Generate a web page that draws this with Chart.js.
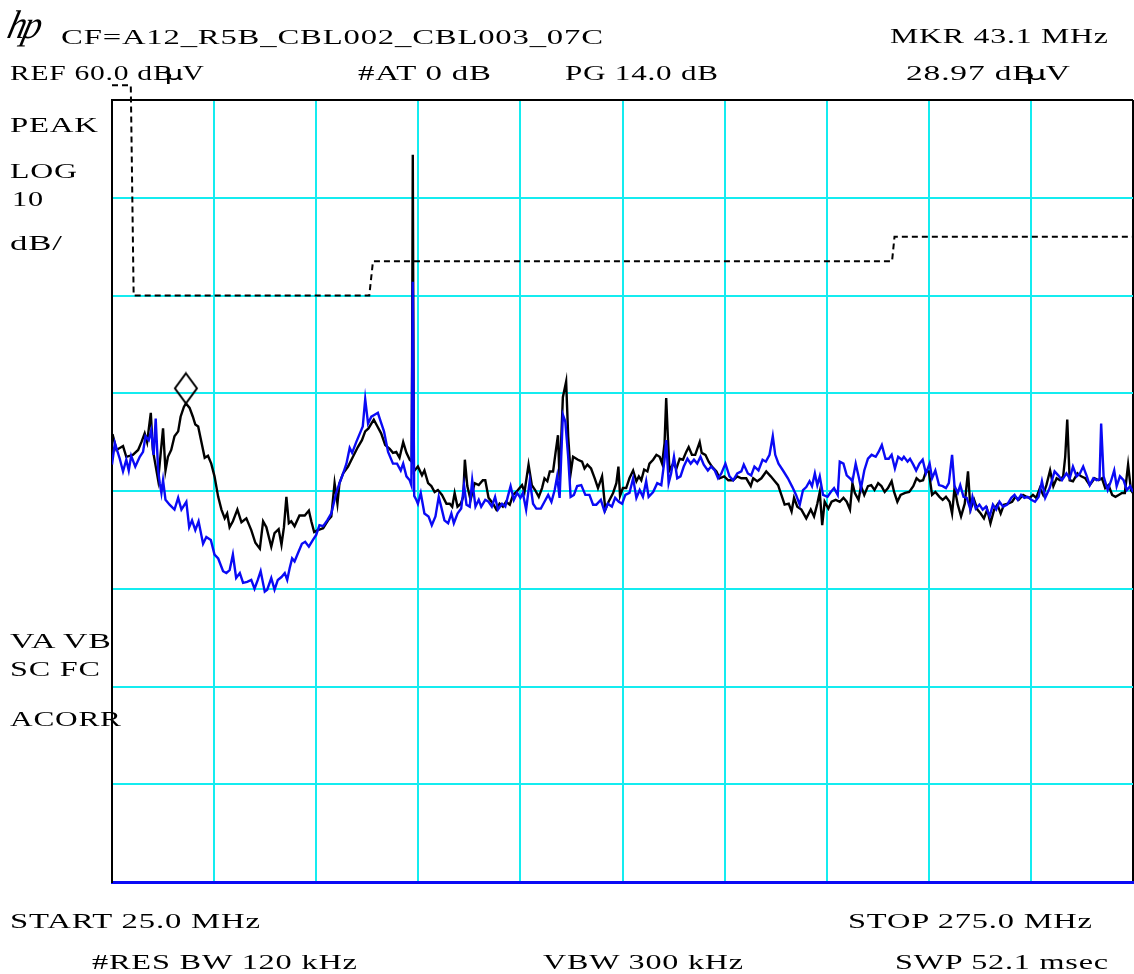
<!DOCTYPE html>
<html>
<head>
<meta charset="utf-8">
<title>Spectrum 25 - 275 MHz</title>
<script src="https://cdn.jsdelivr.net/npm/chart.js@4.4.1/dist/chart.umd.min.js"></script>
<style>
  html, body { margin: 0; padding: 0; background: #fff; }
  #wrap { position: relative; width: 1134px; height: 974px; overflow: hidden; }
  #plot { position: absolute; left: 0; top: 0; }
  .lbl {
    position: absolute;
    font-family: "Liberation Serif", "Times New Roman", serif;
    font-size: 20px;
    line-height: 20px;
    color: #000;
    white-space: pre;
    letter-spacing: 0.5px;
    transform-origin: 0 0;
  }
  .lbl .mu { font-family: "DejaVu Sans", sans-serif; margin-left: -6px; margin-right: -1px; }
  .logo {
    position: absolute; left: 14px; top: 5px;
    font-family: "Liberation Serif", serif; font-style: italic;
    font-size: 40px; line-height: 40px; letter-spacing: -3px;
    transform: skewX(-14deg) scaleX(0.9);
    transform-origin: 0 0;
  }
</style>
</head>
<body>
<div id="wrap">
  <canvas id="plot" width="1134" height="974"></canvas>
  <div class="logo">hp</div>
</div>
<script>
// sweep / display settings
const startMHz = 25.0;
const stopMHz = 275.0;
const freqPerDiv = 25;
const refLevel = 60.0;      // dBuV at top graticule
const dbPerDiv = 10;
const divisions = 8;

// marker readout
const markerFreqMHz = 43.1;
const markerLevel = 28.97;

// limit line (dBuV), stepped
const limitFreqMHz = [25.0, 29.6, 30.3, 88.0, 88.9, 216.0, 216.6, 275.0];
const limitLevel   = [61.5, 61.5, 40.0, 40.0, 43.5, 43.5, 46.0, 46.0];

// trace A (black): [MHz, dBuV]
const traceA = [
  [25.0,25.8],[25.2,25.7],[26.1,24.2],[27.7,24.6],[28.5,23.5],[30.1,23.7],[31.4,24.2],[32.2,25.0],
  [33.0,25.9],[33.6,25.0],[34.5,28.0],[35.0,24.2],[36.3,21.1],[37.5,26.4],[38.1,22.1],[38.7,23.5],
  [39.5,24.2],[40.3,25.6],[41.2,26.1],[41.8,27.6],[42.6,28.6],[43.1,28.97],[44.0,28.5],[44.8,27.6],
  [45.4,26.8],[46.1,26.6],[46.7,25.4],[47.7,23.4],[48.5,23.6],[49.3,22.8],[50.1,21.5],[51.0,19.4],
  [51.8,18.1],[52.6,17.2],[53.2,17.7],[53.8,16.3],[54.6,16.9],[55.7,18.1],[56.7,16.8],[57.9,17.2],
  [59.1,16.0],[60.1,14.7],[61.2,14.1],[62.0,16.9],[62.8,16.3],[64.0,14.3],[64.8,15.7],[65.8,16.1],
  [66.5,14.5],[67.1,16.3],[67.7,19.4],[68.3,16.7],[68.9,16.9],[69.7,16.4],[70.9,17.5],[72.2,17.5],
  [73.2,18.0],[73.8,16.9],[74.5,15.8],[75.4,16.0],[76.7,16.2],[77.9,17.0],[78.7,17.4],[79.5,20.8],
  [80.2,18.7],[80.7,20.8],[81.6,21.8],[82.8,22.5],[84.0,23.5],[85.2,24.5],[86.2,25.2],[87.0,26.1],
  [87.8,26.4],[88.5,26.9],[89.1,27.3],[90.0,26.6],[90.9,25.9],[91.9,24.7],[93.0,24.3],[93.8,23.9],
  [94.6,24.0],[95.4,23.4],[96.3,25.0],[97.1,23.9],[97.9,23.2],[98.4,23.0],[98.65,54.4],[98.9,22.0],
  [99.9,22.5],[100.9,21.6],[101.5,22.1],[102.4,20.8],[103.2,20.5],[104.0,19.9],[104.8,20.1],[105.8,19.6],
  [106.9,18.7],[107.7,18.7],[108.3,18.4],[108.9,19.8],[109.6,18.4],[110.4,18.7],[111.0,19.4],[111.4,23.2],
  [112.0,20.5],[112.8,19.1],[113.8,20.8],[114.8,20.6],[115.8,21.1],[116.4,21.1],[117.2,19.3],[118.3,18.7],
  [119.1,18.1],[119.9,18.7],[120.7,18.4],[121.5,18.9],[122.4,18.6],[123.2,19.6],[124.0,19.9],[124.8,20.3],
  [125.4,20.6],[126.0,19.9],[127.0,22.7],[127.8,20.6],[128.6,20.1],[129.5,19.4],[130.3,20.3],[130.9,21.3],
  [131.6,21.0],[132.2,22.0],[133.0,22.0],[133.6,23.9],[134.2,25.7],[134.6,21.1],[135.4,29.6],[136.2,31.2],
  [136.7,25.6],[137.3,21.8],[137.9,23.5],[139.1,23.2],[140.1,23.0],[140.7,22.3],[141.4,22.7],[142.3,22.3],
  [143.2,21.3],[144.0,20.3],[145.0,21.5],[145.8,18.1],[146.6,18.9],[147.7,19.8],[148.5,20.8],[149.0,22.5],
  [149.4,19.5],[150.1,20.3],[150.9,20.3],[151.7,21.3],[152.6,22.1],[153.4,21.0],[154.0,21.5],[154.6,21.1],
  [155.3,22.2],[156.1,22.0],[156.6,22.8],[157.5,23.2],[158.3,23.7],[159.1,23.5],[159.7,22.8],[160.3,24.9],
  [160.7,29.5],[161.1,25.6],[161.5,22.1],[162.4,22.8],[163.2,22.3],[164.0,23.3],[164.8,23.2],[165.6,24.0],
  [166.2,24.5],[167.0,23.7],[167.8,23.7],[168.9,25.0],[169.4,23.9],[170.3,23.7],[171.1,23.0],[171.9,22.5],
  [173.0,22.0],[173.8,21.3],[174.9,21.5],[175.9,21.1],[177.1,21.1],[178.1,21.5],[179.1,21.3],[180.3,21.3],
  [181.4,20.5],[182.0,21.3],[183.0,21.0],[184.0,21.3],[185.2,22.0],[186.3,21.5],[187.3,21.0],[188.1,20.6],
  [188.9,19.6],[189.7,18.6],[190.7,18.7],[191.4,17.9],[192.0,19.3],[192.8,18.4],[193.8,18.1],[195.0,17.2],
  [196.1,18.1],[196.9,17.4],[197.7,18.7],[198.3,19.9],[198.9,16.5],[199.5,18.9],[200.4,18.2],[201.2,18.9],
  [202.2,19.1],[203.2,18.9],[204.1,19.3],[204.9,18.9],[205.7,18.1],[206.3,20.8],[206.9,19.8],[207.8,19.1],
  [208.4,20.5],[209.2,19.6],[210.1,20.5],[210.9,20.6],[211.7,20.1],[212.6,20.8],[213.4,20.5],[214.2,19.9],
  [215.0,20.3],[215.9,21.0],[216.5,19.9],[217.3,18.9],[218.1,19.6],[219.2,19.8],[220.2,19.9],[221.2,20.5],
  [222.0,21.3],[222.8,21.0],[223.6,21.1],[224.3,22.0],[225.0,22.0],[225.8,19.6],[226.6,19.9],[227.6,19.4],
  [228.4,19.1],[229.2,19.4],[230.1,18.9],[230.7,17.7],[231.3,20.3],[232.1,18.6],[232.9,17.4],[233.8,18.7],
  [234.6,22.0],[235.2,18.1],[236.1,19.1],[236.9,18.1],[237.7,17.7],[238.5,17.2],[239.3,18.1],[240.1,16.7],
  [241.0,18.1],[241.8,18.6],[242.6,17.7],[243.4,18.6],[244.4,18.7],[245.4,18.9],[246.2,19.4],[247.0,19.1],
  [248.1,19.6],[248.9,19.4],[249.7,19.3],[250.5,19.6],[251.3,19.3],[252.2,20.3],[253.0,19.6],[253.8,20.6],
  [254.7,22.1],[255.5,20.5],[256.3,21.3],[257.1,21.1],[257.9,21.5],[258.4,23.5],[258.9,27.3],[259.5,21.1],
  [260.3,21.0],[261.4,21.8],[262.3,21.5],[263.3,21.3],[264.4,20.6],[265.6,21.3],[266.6,21.1],[267.4,21.3],
  [268.2,20.3],[269.0,20.6],[269.9,19.6],[270.7,19.4],[271.5,19.6],[272.3,19.8],[273.0,19.8],[273.8,22.7],
  [274.5,20.1],[275.0,19.8]
];

// trace B (blue): [MHz, dBuV]
const traceB = [
  [25.0,22.7],[25.7,24.9],[26.9,23.3],[27.7,22.0],[28.5,23.2],[29.1,22.1],[29.7,23.6],[30.7,22.5],
  [31.8,23.5],[32.6,24.0],[33.2,25.6],[34.0,25.2],[34.6,26.2],[35.2,23.7],[35.7,27.4],[36.3,22.1],
  [36.7,20.8],[37.1,19.8],[37.5,21.1],[38.1,19.1],[39.1,18.6],[40.3,18.1],[41.2,19.3],[42.0,18.1],
  [43.2,18.9],[43.9,16.3],[44.6,17.0],[45.4,16.0],[46.2,16.9],[47.3,14.6],[48.1,15.3],[49.2,15.0],
  [50.1,13.5],[51.0,13.1],[52.2,11.8],[53.0,11.6],[53.8,11.9],[54.6,13.5],[55.4,11.1],[56.3,11.6],
  [57.1,10.6],[58.1,10.7],[59.1,10.9],[59.9,10.0],[60.7,10.9],[61.4,11.8],[62.4,9.7],[63.0,9.9],
  [64.0,11.1],[64.8,9.9],[65.6,10.9],[66.5,11.2],[67.3,11.6],[67.9,10.9],[68.5,12.1],[69.1,13.1],
  [69.7,12.8],[70.5,13.6],[71.5,14.6],[72.3,14.8],[73.2,14.3],[74.2,15.0],[75.0,15.5],[75.8,16.5],
  [76.7,16.4],[77.7,17.0],[78.7,17.7],[79.9,19.8],[80.7,20.8],[81.6,21.8],[82.4,22.8],[83.2,24.4],
  [83.8,23.9],[84.8,25.0],[85.9,26.1],[86.4,26.6],[87.0,29.4],[87.7,26.9],[88.5,27.6],[89.3,27.8],
  [90.1,28.0],[90.8,27.1],[91.6,26.1],[92.6,24.0],[93.8,22.8],[94.8,22.8],[95.7,22.1],[96.3,22.8],
  [97.1,21.5],[97.9,21.1],[98.3,20.6],[98.65,41.4],[99.0,19.5],[99.5,19.1],[99.9,18.7],[100.6,19.8],
  [101.5,17.7],[102.5,17.4],[103.3,16.5],[104.2,17.4],[105.0,19.4],[105.6,18.4],[106.4,17.0],[107.3,16.7],
  [108.1,17.7],[108.7,16.7],[109.6,17.7],[110.5,18.2],[111.2,20.6],[111.8,18.6],[112.6,18.4],[113.2,21.1],
  [114.0,18.4],[114.8,19.1],[115.4,18.4],[116.4,19.1],[117.2,18.9],[118.0,18.4],[118.8,19.4],[119.5,18.1],
  [120.5,18.7],[121.3,18.4],[121.9,19.4],[122.6,20.5],[123.4,19.1],[124.2,19.8],[125.0,19.3],[125.6,19.8],
  [126.4,18.1],[127.3,21.1],[128.1,18.7],[128.9,18.2],[130.0,18.2],[130.9,18.9],[131.8,19.6],[132.6,18.9],
  [133.4,20.1],[134.0,21.5],[134.6,19.3],[135.4,27.8],[136.0,27.1],[136.7,23.5],[137.3,19.4],[138.1,19.6],
  [138.9,20.5],[139.9,20.6],[140.9,19.6],[141.9,19.6],[142.8,18.6],[143.6,18.6],[144.7,19.1],[145.6,17.9],
  [146.4,18.7],[147.4,18.4],[148.2,19.3],[149.1,18.9],[149.9,18.7],[150.7,19.6],[151.7,19.8],[152.6,21.3],
  [153.4,19.3],[154.2,20.1],[155.0,19.4],[155.8,21.0],[156.4,19.4],[157.5,19.9],[158.5,20.8],[159.5,20.6],
  [160.3,23.2],[160.7,25.2],[161.3,20.8],[161.9,21.8],[162.6,23.5],[163.4,21.3],[164.2,21.5],[165.0,22.5],
  [165.9,23.3],[166.7,22.8],[167.5,23.2],[168.3,22.8],[169.1,23.5],[169.9,22.7],[170.9,22.1],[171.7,22.5],
  [172.6,22.1],[173.4,21.3],[174.2,21.8],[175.2,22.8],[176.2,21.5],[177.1,21.1],[178.1,21.8],[179.1,22.0],
  [179.7,22.7],[180.7,21.8],[181.5,21.6],[182.3,22.5],[183.3,22.1],[184.3,23.2],[185.1,23.0],[186.0,23.7],
  [186.8,25.6],[187.4,23.7],[188.2,22.8],[189.3,22.1],[190.5,21.3],[191.6,20.4],[192.5,19.6],[193.4,18.6],
  [194.2,20.1],[195.0,20.4],[195.8,21.0],[196.4,20.5],[197.1,21.8],[197.7,20.6],[198.3,21.5],[199.1,19.6],
  [200.2,19.4],[201.0,19.9],[201.8,20.3],[202.7,19.6],[203.2,23.0],[204.1,22.8],[204.9,21.6],[205.7,21.3],
  [206.3,21.0],[207.1,22.8],[207.8,21.5],[208.4,20.3],[209.2,22.1],[210.1,23.3],[211.0,23.7],[212.0,23.5],
  [212.7,24.0],[213.5,24.7],[214.4,23.3],[215.2,23.3],[215.9,23.7],[216.7,22.3],[217.5,23.5],[218.4,23.2],
  [218.9,23.5],[219.8,23.0],[220.4,23.3],[221.2,22.7],[221.9,22.1],[222.7,22.8],[223.5,23.2],[224.3,21.8],
  [225.2,22.8],[225.8,21.3],[226.6,22.1],[227.5,20.6],[228.4,20.5],[229.2,20.3],[229.9,20.8],[230.7,23.7],
  [231.3,20.5],[232.1,19.8],[232.7,20.6],[233.5,19.4],[234.3,19.3],[235.2,18.1],[235.7,19.4],[236.5,18.2],
  [237.4,18.6],[238.2,18.1],[239.0,18.4],[239.9,17.4],[240.7,18.6],[241.5,18.1],[242.3,18.9],[243.2,18.4],
  [244.2,18.6],[245.2,19.3],[246.0,19.6],[246.8,19.1],[247.6,19.6],[248.4,19.3],[249.2,19.4],[250.1,19.1],
  [251.0,18.9],[251.9,19.4],[252.7,21.0],[253.5,19.3],[254.6,20.3],[255.8,22.0],[256.7,21.6],[257.6,21.1],
  [258.7,21.8],[259.5,21.3],[260.3,22.5],[261.2,21.5],[262.0,21.8],[262.8,22.5],[263.7,21.5],[264.4,20.6],
  [265.3,21.3],[266.1,21.1],[266.8,21.2],[267.2,26.9],[267.8,21.5],[268.8,20.1],[269.6,21.0],[270.4,22.1],
  [271.0,20.5],[271.8,21.5],[272.7,21.1],[273.5,20.1],[274.3,20.5],[275.0,19.9]
];

// annotation text: [html, left x, baseline y, drawn width]
const labelLayout = [
  ['CF=A12_R5B_CBL002_CBL003_07C', 61, 44, 542],
  ['MKR ' + markerFreqMHz.toFixed(1) + ' MHz', 890, 43, 218],
  ['REF ' + refLevel.toFixed(1) + ' dB<span class="mu">µ</span>V', 10, 80, 194],
  ['#AT 0 dB', 358, 80, 133],
  ['PG 14.0 dB', 565, 80, 153],
  [markerLevel.toFixed(2) + ' dB<span class="mu">µ</span>V', 906, 80, 164],
  ['PEAK', 10, 132, 88],
  ['LOG', 10, 178, 67],
  [String(dbPerDiv), 12, 206, 31],
  ['dB/', 10, 250, 52],
  ['VA VB', 10, 648, 101],
  ['SC FC', 10, 676, 90],
  ['ACORR', 10, 726, 111],
  ['START ' + startMHz.toFixed(1) + ' MHz', 10, 928, 250],
  ['STOP ' + stopMHz.toFixed(1) + ' MHz', 848, 928, 244],
  ['#RES BW 120 kHz', 92, 969, 265],
  ['VBW 300 kHz', 543, 969, 200],
  ['SWP 52.1 msec', 895, 969, 213]
];

const GRID = '#14ecf0';
const TRACE_BLUE = '#0a0af5';

function toPoints(pairs) {
  return pairs.map(p => ({ x: p[0], y: p[1] }));
}

// diamond marker, bottom tip sits on the data point
function diamondMarker() {
  const c = document.createElement('canvas');
  c.width = 26;
  c.height = 64;
  const g = c.getContext('2d');
  g.strokeStyle = '#000';
  g.lineWidth = 2;
  g.beginPath();
  g.moveTo(13, 2);
  g.lineTo(24, 17);
  g.lineTo(13, 32);
  g.lineTo(2, 17);
  g.closePath();
  g.stroke();
  return c;
}

// axes take no room; the graticule fills the padded area
function noRoom(s) {
  if (s.isHorizontal()) s.height = 0; else s.width = 0;
  s.paddingLeft = 0;
  s.paddingRight = 0;
  s.paddingTop = 0;
  s.paddingBottom = 0;
}

const yMin = refLevel - dbPerDiv * divisions;

new Chart(document.getElementById('plot'), {
  type: 'line',
  data: {
    datasets: [
      {
        label: 'marker',
        data: [{ x: markerFreqMHz, y: markerLevel }],
        showLine: false,
        pointStyle: diamondMarker(),
        pointRadius: 5,
        clip: false,
        order: 0
      },
      {
        label: 'trace B',
        data: toPoints(traceB),
        borderColor: TRACE_BLUE,
        borderWidth: 2.4,
        pointRadius: 0,
        order: 1
      },
      {
        label: 'trace A',
        data: toPoints(traceA),
        borderColor: '#000',
        borderWidth: 2.4,
        pointRadius: 0,
        order: 2
      },
      {
        label: 'limit',
        data: limitFreqMHz.map((f, i) => ({ x: f, y: limitLevel[i] })),
        borderColor: '#000',
        borderWidth: 2,
        borderDash: [6, 4],
        pointRadius: 0,
        clip: false,
        order: 3
      }
    ]
  },
  options: {
    responsive: false,
    animation: false,
    devicePixelRatio: 1,
    // no auto padding, otherwise the marker size pushes the right edge in
    layout: { autoPadding: false, padding: { left: 112, top: 100, right: 1, bottom: 92 } },
    plugins: { legend: { display: false }, tooltip: { enabled: false } },
    elements: { line: { tension: 0, fill: false } },
    scales: {
      x: {
        type: 'linear',
        min: startMHz,
        max: stopMHz,
        afterFit: noRoom,
        ticks: { display: false, stepSize: freqPerDiv },
        grid: {
          drawTicks: false,
          lineWidth: 2,
          color: c => (c.tick && c.tick.value === stopMHz ? '#000' : GRID)
        },
        border: { display: true, color: TRACE_BLUE, width: 3 }
      },
      y: {
        min: yMin,
        max: refLevel,
        afterFit: noRoom,
        ticks: { display: false, stepSize: dbPerDiv },
        grid: {
          drawTicks: false,
          lineWidth: 2,
          color: c => (c.tick && c.tick.value === refLevel ? '#000' : GRID)
        },
        border: { display: true, color: '#000', width: 2 }
      }
    }
  }
});

function placeLabels() {
  const wrap = document.getElementById('wrap');
  labelLayout.forEach(([html, left, baseline, width]) => {
    const el = document.createElement('div');
    el.className = 'lbl';
    el.innerHTML = html;
    el.style.left = left + 'px';
    el.style.top = (baseline - 17) + 'px';
    wrap.appendChild(el);
    const natural = el.getBoundingClientRect().width - 0.5;
    el.style.transform = 'scaleX(' + (width / natural).toFixed(3) + ')';
  });
}

if (document.fonts && document.fonts.ready) {
  document.fonts.ready.then(placeLabels);
} else {
  placeLabels();
}
</script>
</body>
</html>
